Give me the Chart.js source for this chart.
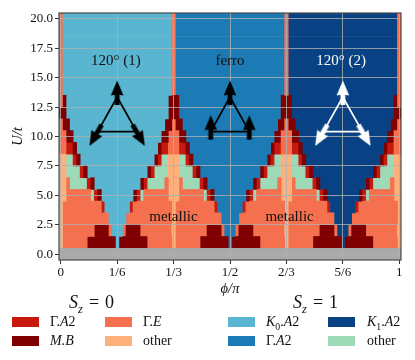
<!DOCTYPE html>
<html>
<head>
<meta charset="utf-8">
<script src="https://cdn.jsdelivr.net/npm/chart.js@4"></script>
<style>
html,body{margin:0;padding:0;background:#fff;width:415px;height:360px;overflow:hidden}
#wrap{position:relative;width:415px;height:360px;font-family:"Liberation Serif",serif;color:#111}
canvas{position:absolute;left:0;top:0}
.sw{position:absolute;width:27px;height:10px}
.lb{position:absolute;font-size:14px;line-height:14px;white-space:nowrap}
.tt{position:absolute;font-size:18px;line-height:20px;white-space:nowrap;word-spacing:1.5px}
sub{font-size:70%;line-height:0}
</style>
</head>
<body>
<div id="wrap"><canvas id="c" width="415" height="360"></canvas></div>
<script>
// interaction strengths (rows) and cell step along phi
const uValues = [0,1,2,3,4,5,6,7,8,9,10,11,12,13,14,15,16,17,18,19,20];
const phiDivisions = 96;
// phase of every cell, run-length coded from phi=0 to phi=1, one string per U
const cellRuns = [
 'a97',
 'l1 o7 m8 c1 m8 o7 l1 o7 m8 b1 m8 o7 l1 o7 m8 n1 m8 o7 l1',
 'l1 o9 m4 o1 c3 o1 m4 o9 l1 o9 m4 o1 b3 o1 m4 o9 l1 o9 m4 o1 n3 o1 m4 o9 l1',
 'l1 o13 c5 o13 l1 o13 b5 o13 l1 o13 n5 o13 l1',
 'l1 o11 r1 c7 r1 o11 l1 o11 r1 b7 r1 o11 l1 o11 r1 n7 r1 o11 l1',
 'l2 o7 g1 r1 m1 c9 m1 r1 g1 o7 l3 o7 g1 r1 m1 b9 m1 r1 g1 o7 l3 o7 g1 r1 m1 n9 m1 r1 g1 o7 l2',
 'l2 o1 g5 r1 m1 c13 m1 r1 g5 o1 l3 o1 g5 r1 m1 b13 m1 r1 g5 o1 l3 o1 g5 r1 m1 n13 m1 r1 g5 o1 l2',
 'l2 g4 r1 m1 c17 m1 r1 g4 l3 g4 r1 m1 b17 m1 r1 g4 l3 g4 r1 m1 n17 m1 r1 g4 l2',
 'l2 g2 r1 m1 c21 m1 r1 g2 l3 g2 r1 m1 b21 m1 r1 g2 l3 g2 r1 m1 n21 m1 r1 g2 l2',
 'o2 r2 m1 c23 m1 r2 o3 r2 m1 b23 m1 r2 o3 r2 m1 n23 m1 r2 o2',
 'o2 m2 c25 m2 o3 m2 b25 m2 o3 m2 n25 m2 o2',
 'o1 m2 c27 m2 o1 m2 b27 m2 o1 m2 n27 m2 o1',
 'm2 c29 m3 b29 m3 n29 m2',
 'o1 m1 c29 m3 b29 m3 n29 m1 o1',
 'o1 c31 o1 b31 o1 n31 o1',
 'o1 c31 o1 b31 o1 n31 o1',
 'o1 c31 o1 b31 o1 n31 o1',
 'o1 c31 o1 b31 o1 n31 o1',
 'o1 c31 o1 b31 o1 n31 o1',
 'o1 c31 o1 b31 o1 n31 o1',
 'o1 c31 o1 b31 o1 n31 o1'
];
const phaseColors = {r:'#c8190f',m:'#7f0000',o:'#f4704f',l:'#fdb07c',c:'#5ab5d0',b:'#1c7bb5',n:'#084284',g:'#9fdab8',a:'#a9a9a9'};
// axis ticks
const xTickValues = [0,1/6,1/3,1/2,2/3,5/6,1];
const xTickLabels = ['0','1/6','1/3','1/2','2/3','5/6','1'];
const yTickValues = [0,2.5,5,7.5,10,12.5,15,17.5,20];
const yTickLabels = ['0.0','2.5','5.0','7.5','10.0','12.5','15.0','17.5','20.0'];
// spin triangles: apex, left, right sites
const triPhi1 = [1/6,0.109,0.224];
const triPhi2 = [1/2,0.443,0.557];
const triPhi3 = [5/6,0.776,0.891];
const triU = [13.36,10.41,10.41];
const spinAngles1 = [0,210,150];
const spinAngles2 = [0,0,0];
const spinAngles3 = [0,210,150];
// annotations
const noteTexts = ['120° (1)','ferro','120° (2)','metallic','metallic'];
const notePhi = [0.1625,0.5,0.8285,0.333,0.676];
const noteU = [16.45,16.45,16.45,3.15,3.15];
const noteColors = ['#111','#111','#fff','#111','#111'];
// legend
const legendColors = ['#c8190f','#7f0000','#f4704f','#fdb07c','#5ab5d0','#1c7bb5','#084284','#9fdab8'];
const legendLabels = ['Γ.<i>A</i>2','<i>M.B</i>','Γ.<i>E</i>','other','<i>K</i><sub>0</sub>.<i>A</i>2','Γ.<i>A</i>2','<i>K</i><sub>1</sub>.<i>A</i>2','other'];

const SERIF = '"Liberation Serif", serif';
function arrowCanvas(color){
  const cv=document.createElement('canvas');cv.width=cv.height=60;
  const g=cv.getContext('2d');g.fillStyle=color;g.translate(30,30);
  g.fillRect(-2.4,-4,4.8,12);
  g.beginPath();g.moveTo(0,-16.5);g.lineTo(6.3,-1.5);g.lineTo(0,-2.5);g.lineTo(-6.3,-1.5);g.closePath();g.fill();
  return cv;
}
const datasets=[];
const byKey={};
cellRuns.forEach((row,i)=>{
  let k=0;const seen={};
  row.split(' ').forEach(tok=>{
    const cls=tok[0],n=+tok.slice(1);
    const j=seen[cls]=(seen[cls]||0)+1;
    const key=cls+j;
    if(!byKey[key]){
      byKey[key]={type:'bar',indexAxis:'y',grouped:false,barPercentage:1,categoryPercentage:1,
        backgroundColor:phaseColors[cls],borderWidth:0,data:[]};
      datasets.push(byKey[key]);
    }
    byKey[key].data.push({y:uValues[i],x:[(k-0.5)/phiDivisions,(k+n-0.5)/phiDivisions]});
    k+=n;
  });
});
const overlayStart=datasets.length;
function triangle(phi,angles,color){
  const pts=phi.map((p,i)=>({x:p,y:triU[i]}));
  datasets.push({type:'scatter',indexAxis:'x',showLine:true,borderColor:color,borderWidth:1.7,pointRadius:0,
    data:pts.concat([pts[0]])});
  datasets.push({type:'scatter',indexAxis:'x',showLine:false,pointStyle:arrowCanvas(color),pointRadius:5,pointRotation:angles,
    data:pts});
}
triangle(triPhi1,spinAngles1,'#000');
triangle(triPhi2,spinAngles2,'#000');
triangle(triPhi3,spinAngles3,'#fff');

const overlay={
  id:'overlay',
  beforeDatasetDraw(chart,args){ if(args.index>=overlayStart) return false; },
  afterDraw(chart){
    const c=chart.ctx,a=chart.chartArea,xs=chart.scales.x,ys=chart.scales.y;
    c.save();c.strokeStyle='#4a4a4a';c.lineWidth=1.2;
    c.strokeRect(a.left,a.top,a.right-a.left,a.bottom-a.top);c.restore();
    for(let i=overlayStart;i<datasets.length;i++){chart.getDatasetMeta(i).controller.draw();}
    c.save();c.font='15px '+SERIF;c.textAlign='center';c.textBaseline='middle';
    noteTexts.forEach((t,i)=>{c.fillStyle=noteColors[i];
      c.fillText(t,xs.getPixelForValue(notePhi[i]),ys.getPixelForValue(noteU[i]));});
    c.restore();
  }
};
function commonTicks(values){
  return function(scale){scale.ticks=values.map(v=>({value:v}));};
}
new Chart(document.getElementById('c'),{
  type:'bar',
  data:{datasets},
  plugins:[overlay],
  options:{
    indexAxis:'y',responsive:false,animation:false,
    layout:{padding:{left:9,right:14,top:13,bottom:62}},
    plugins:{legend:{display:false},tooltip:{enabled:false}},
    scales:{
      x:{type:'linear',position:'bottom',offset:false,min:-0.5/phiDivisions,max:96.5/phiDivisions,
        afterBuildTicks:commonTicks(xTickValues),
        afterFit(s){s.height=38;},
        grid:{z:1,offset:false,color:'rgba(176,176,176,0.8)',tickColor:'#333',tickLength:4,lineWidth:1},
        border:{display:false},
        ticks:{autoSkip:false,maxRotation:0,padding:1,color:'#111',font:{family:SERIF,size:13},
          callback(v,i){return xTickLabels[i];}},
        title:{display:true,text:'ϕ/π',color:'#111',padding:0,font:{family:SERIF,size:14.5,style:'italic'}}
      },
      y:{type:'linear',position:'left',offset:false,min:-0.5,max:20.5,
        afterBuildTicks:commonTicks(yTickValues),
        afterFit(s){s.width=50;},
        grid:{z:1,offset:false,color:'rgba(176,176,176,0.8)',tickColor:'#333',tickLength:4,lineWidth:1},
        border:{display:false},
        ticks:{autoSkip:false,padding:2,color:'#111',font:{family:SERIF,size:13},
          callback(v,i){return yTickLabels[i];}},
        title:{display:true,text:'U/t',color:'#111',padding:0,font:{family:SERIF,size:14.5,style:'italic'}}
      }
    }
  }
});
// legend
const wrap=document.getElementById('wrap');
const swX=[12,12,105,105,228,228,328,328], swY=[317,336,317,336,317,336,317,336];
const lbX=[50,50,143,143,266,266,367,367];
legendColors.forEach((col,i)=>{
  const s=document.createElement('div');s.className='sw';s.style.cssText=`left:${swX[i]}px;top:${swY[i]}px;background:${col}`;wrap.appendChild(s);
  const l=document.createElement('div');l.className='lb';l.style.cssText=`left:${lbX[i]}px;top:${swY[i]-2}px`;l.innerHTML=legendLabels[i];wrap.appendChild(l);
});
[['0',69],['1',293]].forEach(([v,x])=>{
  const t=document.createElement('div');t.className='tt';t.style.cssText=`left:${x}px;top:292px`;
  t.innerHTML='<i>S<sub>z</sub></i> = '+v;wrap.appendChild(t);
});
</script>
</body>
</html>
